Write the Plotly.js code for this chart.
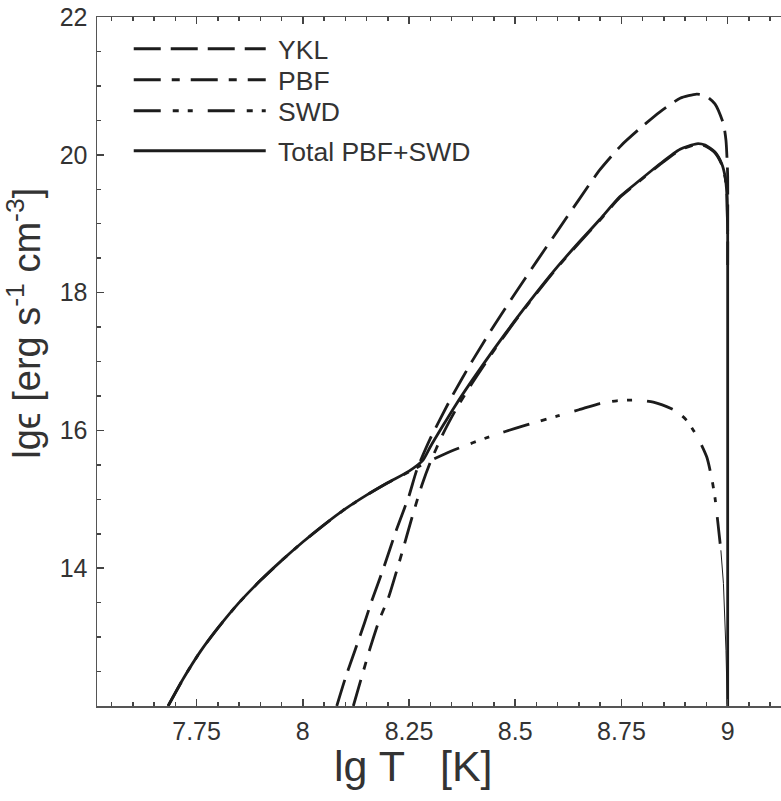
<!DOCTYPE html>
<html>
<head>
<meta charset="utf-8">
<script src="https://cdn.plot.ly/plotly-3.0.1.min.js"></script>
<style>html,body{margin:0;padding:0;background:#fff;}</style>
</head>
<body>
<div id="chart" style="width:781px;height:801px;"></div>
<script>
// ---- data ----
const yklX = [8.080, 8.100, 8.123, 8.145, 8.162, 8.190, 8.220, 8.250, 8.268, 8.300, 8.350, 8.400, 8.450, 8.500, 8.550, 8.600, 8.650, 8.699, 8.750, 8.793, 8.840, 8.888, 8.927, 8.947, 8.970, 8.990, 8.996, 8.999, 9.000, 9.000];
const yklY = [12.00, 12.40, 12.81, 13.20, 13.52, 14.00, 14.55, 15.05, 15.42, 15.88, 16.48, 17.02, 17.52, 17.99, 18.45, 18.90, 19.35, 19.78, 20.14, 20.38, 20.62, 20.82, 20.88, 20.86, 20.74, 20.45, 20.21, 19.87, 19.68, 18.40];

const pbfX = [8.119, 8.140, 8.157, 8.180, 8.201, 8.230, 8.260, 8.280, 8.299, 8.330, 8.360, 8.400, 8.450, 8.500, 8.550, 8.600, 8.650, 8.699, 8.746, 8.793, 8.841, 8.888, 8.927, 8.947, 8.970, 8.986, 8.994, 8.998, 8.999, 9.000];
const pbfY = [12.00, 12.45, 12.81, 13.25, 13.56, 14.15, 14.80, 15.20, 15.52, 15.95, 16.30, 16.70, 17.16, 17.59, 17.99, 18.37, 18.72, 19.05, 19.38, 19.62, 19.86, 20.07, 20.15, 20.13, 20.03, 19.86, 19.67, 19.43, 19.18, 18.85];

const swdX = [7.683, 7.720, 7.760, 7.800, 7.850, 7.900, 7.950, 8.000, 8.050, 8.100, 8.150, 8.200, 8.250, 8.290, 8.350, 8.400, 8.450, 8.500, 8.550, 8.600, 8.650, 8.699, 8.739, 8.786, 8.825, 8.876, 8.903, 8.931, 8.951, 8.962, 8.970, 8.978, 8.984];
const swdY = [12.00, 12.41, 12.80, 13.13, 13.50, 13.82, 14.11, 14.38, 14.63, 14.86, 15.06, 15.24, 15.40, 15.53, 15.70, 15.82, 15.93, 16.03, 16.12, 16.21, 16.30, 16.39, 16.43, 16.44, 16.41, 16.29, 16.15, 15.88, 15.61, 15.32, 15.03, 14.60, 14.26];

const swdTailX = [8.984, 8.990, 8.996, 8.999];
const swdTailY = [14.26, 13.78, 12.81, 12.03];

const totX = [7.683, 7.720, 7.760, 7.800, 7.850, 7.900, 7.950, 8.000, 8.050, 8.100, 8.150, 8.200, 8.250, 8.283, 8.300, 8.330, 8.360, 8.400, 8.450, 8.500, 8.550, 8.600, 8.650, 8.699, 8.746, 8.793, 8.841, 8.888, 8.927, 8.947, 8.970, 8.986, 8.994, 8.998, 8.999, 9.000, 9.000];
const totY = [12.00, 12.41, 12.80, 13.13, 13.50, 13.82, 14.11, 14.38, 14.63, 14.86, 15.06, 15.24, 15.41, 15.57, 15.76, 16.07, 16.37, 16.74, 17.18, 17.60, 18.00, 18.38, 18.73, 19.06, 19.39, 19.63, 19.87, 20.08, 20.16, 20.14, 20.04, 19.87, 19.68, 19.44, 19.19, 18.86, 12.00];

const xTickVals = [7.75, 8, 8.25, 8.5, 8.75, 9];
const xTickText = ['7.75', '8', '8.25', '8.5', '8.75', '9'];
const yTickVals = [14, 16, 18, 20, 22];
const yTickText = ['14', '16', '18', '20', '22'];
const names = ['YKL', 'PBF', 'SWD', 'Total PBF+SWD'];
const xTitle = 'lg T   [K]';
const yTitle = 'lg\u03F5 [erg s<sup>-1</sup> cm<sup>-3</sup>]';

// ---- styling ----
const ink = '#1c1c1c';
const FONT = 'Liberation Sans, Arial, Helvetica, sans-serif';
const LW = 2.8;
const SM = 0.6;
const nb = '\u00A0';

const traces = [
  {x: yklX, y: yklY, name: nb + names[0], mode: 'lines', legend: 'legend',
   line: {color: ink, width: LW, dash: '27px,10px', shape: 'spline', smoothing: SM}},
  {x: pbfX, y: pbfY, name: nb + names[1], mode: 'lines', legend: 'legend2',
   line: {color: ink, width: LW, dash: '27px,11px,8px,11px', shape: 'spline', smoothing: SM}},
  {x: swdX, y: swdY, name: nb + names[2], mode: 'lines', legend: 'legend3',
   line: {color: ink, width: LW, dash: '27px,12px,6px,9px,5px,15px', shape: 'spline', smoothing: SM}},
  {x: swdTailX, y: swdTailY, mode: 'lines', showlegend: false,
   line: {color: ink, width: 1}},
  {x: totX, y: totY, name: nb + names[3], mode: 'lines', legend: 'legend4',
   line: {color: ink, width: LW, shape: 'spline', smoothing: SM}}
];

const axisCommon = {
  showgrid: false, zeroline: false, showline: true,
  linecolor: '#555', linewidth: 1.5,
  ticks: 'inside', ticklen: 7, tickwidth: 1.5, tickcolor: '#444',
  tickfont: {family: FONT, size: 25, color: '#333'}
};

function leg(py) {
  return {
    x: 0.0464, y: (706 - py) / 689, xanchor: 'left', yanchor: 'middle',
    bgcolor: 'rgba(0,0,0,0)', borderwidth: 0,
    font: {family: FONT, size: 26.5, color: '#333'},
    itemwidth: 132
  };
}

const layout = {
  width: 781, height: 801,
  margin: {l: 97, r: 0, t: 17, b: 95},
  paper_bgcolor: '#fff', plot_bgcolor: '#fff',
  showlegend: true,
  xaxis: Object.assign({}, axisCommon, {
    range: [7.5157, 9.1255],
    tickmode: 'array', tickvals: xTickVals, ticktext: xTickText,
    mirror: 'ticks',
    ticklabelstandoff: 2,
    minor: {tick0: 7.5, dtick: 0.05, ticks: 'inside', ticklen: 4, tickwidth: 1.5, tickcolor: '#444', showgrid: false}
  }),
  yaxis: Object.assign({}, axisCommon, {
    range: [12, 22],
    tickmode: 'array', tickvals: yTickVals, ticktext: yTickText,
    mirror: false,
    ticklabelstandoff: 3,
    minor: {tick0: 12, dtick: 0.5, ticks: 'inside', ticklen: 4, tickwidth: 1.5, tickcolor: '#444', showgrid: false}
  }),
  legend: leg(49),
  legend2: leg(80),
  legend3: leg(111),
  legend4: leg(151),
  annotations: [
    {xref: 'paper', yref: 'paper', x: -0.107, y: 0.556,
     xanchor: 'center', yanchor: 'middle', textangle: -90, showarrow: false,
     text: yTitle, font: {family: FONT, size: 38, color: '#333'}},
    {xref: 'paper', yref: 'paper', x: 0.462, y: -0.087,
     xanchor: 'center', yanchor: 'middle', showarrow: false,
     text: xTitle, font: {family: FONT, size: 43, color: '#333'}}
  ]
};

Plotly.newPlot('chart', traces, layout, {displayModeBar: false, staticPlot: true});
</script>
</body>
</html>
